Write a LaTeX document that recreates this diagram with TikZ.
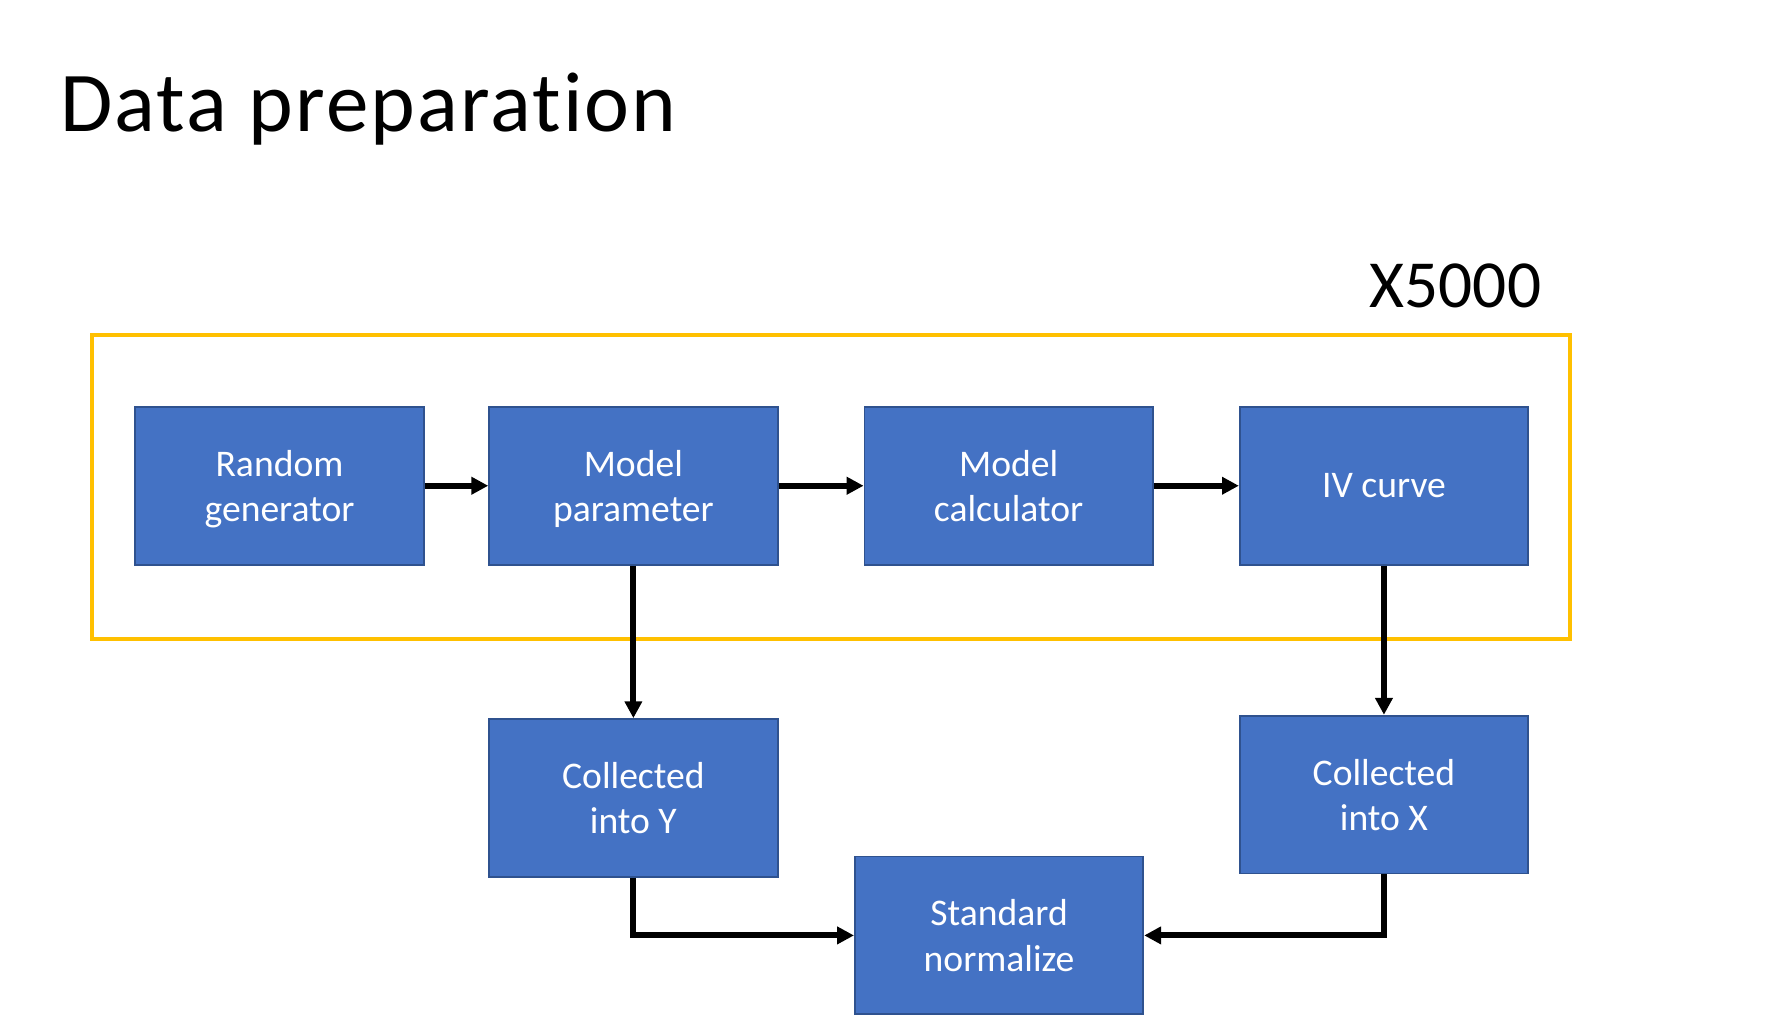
\documentclass[tikz,border=0pt]{standalone}
\usepackage{fontspec}
\setmainfont{Carlito}[Ligatures={NoCommon}]
\usetikzlibrary{arrows.meta}
\definecolor{boxblue}{HTML}{4472C4}
\definecolor{boxedge}{HTML}{2F528F}
\definecolor{loopgold}{HTML}{FFC000}

\begin{document}
\begin{tikzpicture}[x=0.02cm, y=-0.02cm,
        block/.style={draw=boxedge, line width=0.9pt, fill=boxblue, text=white,
            minimum width=5.12cm, minimum height=2.8cm, inner sep=0pt, align=center,
            font=\fontsize{19}{22.8}\selectfont, text depth=0pt},
        flow/.style={line width=3pt, -{Triangle[length=8.5pt, width=8.5pt]}}]
        \useasboundingbox (0, 0) rectangle (1567, 900);
        \fill[white] (0, 0) rectangle (1567, 900);

        \node[anchor=base west, inner sep=0pt, font=\fontsize{43}{50}\selectfont\addfontfeature{LetterSpace=2.5}] (title) at (53, 117) {Data preparation};

        \draw[loopgold, line width=2pt] (82, 297) rectangle (1393, 567);
        \node[anchor=base west, inner sep=0pt, font=\fontsize{34}{40}\selectfont] (times) at (1215, 272.5) {X5000};

        \node[block] (rg) at (248, 431) {Random\\generator};
        \node[block] (mp) at (562, 431) {Model\\parameter};
        \node[block] (mc) at (895, 431) {Model\\calculator};
        \node[block] (iv) at (1228, 431) {IV curve};
        \node[block] (cy) at (562, 708) {Collected\\into Y};
        \node[block] (cx) at (1228, 705) {Collected\\into X};
        \node[block] (sn) at (886.5, 830) {Standard\\normalize};

        \draw[flow] (rg) -- (mp);
        \draw[flow] (mp) -- (mc);
        \draw[flow] (mc) -- (iv);
        \draw[flow] (mp) -- (cy);
        \draw[flow] (iv) -- (cx);
        \draw[flow] (cy.south) |- (sn.west);
        \draw[flow] (cx.south) |- (sn.east);
    \end{tikzpicture}
\end{document}
